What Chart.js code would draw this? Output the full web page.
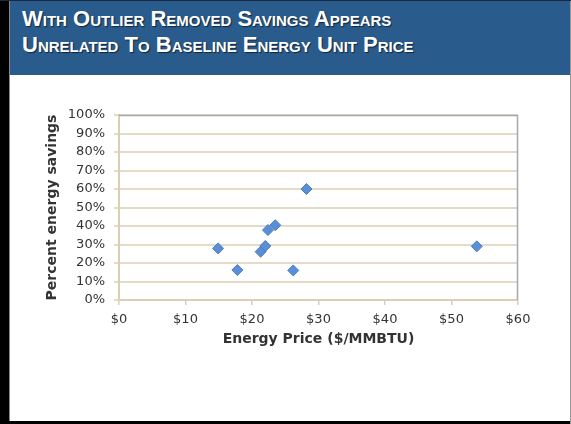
<!DOCTYPE html>
<html><head><meta charset="utf-8">
<script src="https://cdn.jsdelivr.net/npm/chart.js@4/dist/chart.umd.min.js"></script>
<style>
html,body{margin:0;padding:0;background:#fff;}
#frame{position:relative;width:571px;height:424px;overflow:hidden;background:#fff;}
#lb{position:absolute;left:0;top:0;width:9px;height:424px;background:#000;}
#lb2{position:absolute;left:9px;top:0;width:1px;height:424px;background:#888;}
#bb{position:absolute;left:0;top:421px;width:571px;height:3px;background:#000;}
#rb{position:absolute;left:570px;top:0;width:1px;height:424px;background:#999;}
#tb{position:absolute;left:0;top:0;width:571px;height:1px;background:#1a2a40;}
#banner{position:absolute;left:10px;top:1px;width:560px;height:74px;background:#295B8D;}
#title{position:absolute;left:22px;top:6px;color:#fff;font-family:"Liberation Sans",Arial,sans-serif;font-weight:bold;font-variant:small-caps;font-size:22px;line-height:26px;text-shadow:1px 1px 1px rgba(0,0,0,0.6);white-space:nowrap;}
#cv{position:absolute;left:10px;top:76px;}
</style></head>
<body><div id="frame">
<div id="banner"></div>
<div id="title">With Outlier Removed Savings Appears<br>Unrelated To Baseline Energy Unit Price</div>
<div id="lb"></div><div id="lb2"></div><div id="bb"></div><div id="rb"></div><div id="tb"></div>
<canvas id="cv" width="560" height="345"></canvas>
</div>
<script>
const prices = [14.9, 17.8, 21.3, 22.0, 22.4, 23.5, 28.2, 26.2, 53.8];
const savings = [27.9, 16.2, 26.1, 29.2, 37.8, 40.4, 60.0, 16.0, 29.0];
const xTickLabels = ['$0','$10','$20','$30','$40','$50','$60'];
const yTickLabels = ['0%','10%','20%','30%','40%','50%','60%','70%','80%','90%','100%'];
const xTitle = 'Energy Price ($/MMBTU)';
const yTitle = 'Percent energy savings';

const pts = prices.map((p,i)=>({x:p,y:savings[i]}));
const frameLines = {
  id:'frameLines',
  afterDraw(chart){
    const a=chart.chartArea, c=chart.ctx;
    c.save(); c.strokeStyle='#A8A8A8'; c.lineWidth=1.5;
    c.beginPath(); c.moveTo(a.left,a.top+0.5); c.lineTo(a.right-0.5,a.top+0.5); c.lineTo(a.right-0.5,a.bottom); c.stroke();
    c.restore();
  }
};
new Chart(document.getElementById('cv'),{
  type:'scatter',
  data:{datasets:[{data:pts,pointStyle:'rectRot',pointRadius:5.5,pointHoverRadius:5.5,backgroundColor:'#5A8FD8',borderColor:'#4A7CC2',borderWidth:1}]},
  options:{
    responsive:false,animation:false,
    layout:{padding:{left:34,top:39,right:52,bottom:73}},
    plugins:{legend:{display:false},tooltip:{enabled:false}},
    scales:{
      x:{type:'linear',min:0,max:60,
        afterFit(s){s.height=48;},
        afterBuildTicks(s){s.ticks=xTickLabels.map((t,i)=>({value:i*10}));},
        ticks:{autoSkip:false,callback:(v,i)=>xTickLabels[i],color:'#333',font:{family:'DejaVu Sans',size:13},padding:7,maxRotation:0},
        grid:{drawOnChartArea:false,drawTicks:true,tickLength:5,color:'#DCCDB4',lineWidth:1.5},
        border:{color:'#DCCDB4',width:2},
        title:{display:true,text:xTitle,color:'#333',font:{family:'DejaVu Sans',size:14,weight:'bold'},padding:{top:0,bottom:0}}
      },
      y:{type:'linear',min:0,max:100,
        afterFit(s){s.width=75;},
        afterBuildTicks(s){s.ticks=yTickLabels.map((t,i)=>({value:i*10}));},
        ticks:{autoSkip:false,callback:(v,i)=>yTickLabels[i],color:'#333',font:{family:'DejaVu Sans',size:13},padding:9},
        grid:{color:'#E6DBC8',lineWidth:2,tickLength:5,drawTicks:true},
        border:{color:'#DCCDB4',width:2},
        title:{display:true,text:yTitle,color:'#333',font:{family:'DejaVu Sans',size:14,weight:'bold'},padding:{top:0,bottom:4}}
      }
    }
  },
  plugins:[frameLines]
});
</script>
</body></html>
